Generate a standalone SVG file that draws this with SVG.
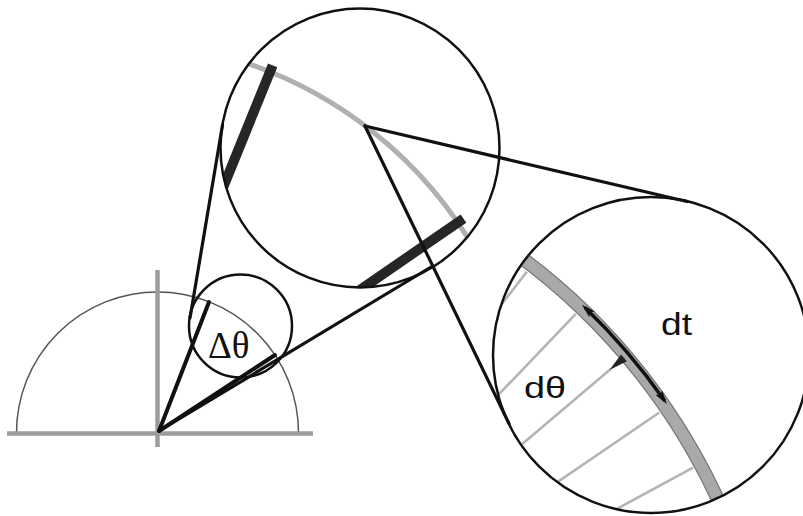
<svg xmlns="http://www.w3.org/2000/svg" width="803" height="516" viewBox="0 0 803 516">
  <style>
    .lens { fill: none; stroke: #111; stroke-width: 2.5; }
    .axis { stroke: #9c9c9c; stroke-width: 4.5; fill: none; }
    .arc0 { fill: none; stroke: #555; stroke-width: 1.5; }
    .radial { stroke: #111; stroke-width: 4; stroke-linecap: round; }
    .conn { stroke: #111; stroke-width: 3.2; stroke-linecap: round; fill: none; }
    .bar { stroke: #262626; stroke-width: 10; }
    .greyarc { fill: none; stroke: #b0b0b0; stroke-width: 5; }
    .hatch { stroke: #b4b4b4; stroke-width: 2.6; }
    .sans { font-family: "Liberation Sans", Arial, sans-serif; fill: #111; }
    .serif { font-family: "Liberation Serif", "Times New Roman", serif; fill: #111; }
  </style>
  <defs>
    <clipPath id="clipBig"><circle cx="360" cy="148" r="139"/></clipPath>
    <clipPath id="clipRight"><circle cx="651" cy="355" r="157"/></clipPath>
    <marker id="head" viewBox="0 0 14 8" refX="10" refY="4" markerWidth="14" markerHeight="8" markerUnits="userSpaceOnUse" orient="auto-start-reverse">
      <path d="M0,0 L14,4 L0,8 L3,4 z" fill="#111"/>
    </marker>
  </defs>
  <rect width="803" height="516" fill="#fff"/>

  <g id="semicircle">
    <path class="arc0" d="M16.5,433 A141,141 0 0 1 298.5,433"/>
    <line class="axis" x1="7" y1="433.5" x2="313" y2="433.5"/>
    <line class="axis" x1="157.5" y1="270" x2="157.5" y2="447"/>
    <line class="radial" x1="159" y1="431" x2="209" y2="302"/>
    <line class="radial" x1="159" y1="431" x2="275" y2="355"/>
  </g>

  <g id="lens-small">
    <circle class="lens" cx="240.5" cy="326" r="51.5"/>
    <text class="serif" x="208" y="358" font-size="37">Δθ</text>
  </g>

  <g id="lens-big">
    <g clip-path="url(#clipBig)">
      <path class="greyarc" d="M220.7,55.3 A420,420 0 0 1 482.8,263.8"/>
      <g transform="translate(112,461)">
        <line class="bar" x1="280" y1="0" x2="427" y2="0" transform="rotate(-67.9)"/>
        <line class="bar" x1="280" y1="0" x2="427" y2="0" transform="rotate(-34.6)"/>
      </g>
    </g>
    <circle class="lens" cx="360" cy="148" r="139.5"/>
  </g>

  <g id="lens-right">
    <g clip-path="url(#clipRight)">
      <g transform="translate(145,764)">
        <line class="hatch" x1="480" y1="0" x2="623" y2="0" transform="rotate(-52.2)"/>
        <line class="hatch" x1="480" y1="0" x2="623" y2="0" transform="rotate(-46.25)"/>
        <line class="hatch" x1="480" y1="0" x2="611" y2="0" transform="rotate(-40.3)"/>
        <line class="hatch" x1="480" y1="0" x2="623" y2="0" transform="rotate(-34.35)"/>
        <line class="hatch" x1="480" y1="0" x2="623" y2="0" transform="rotate(-28.4)"/>
      </g>
      <path d="M497.8,240.9 A631,631 0 0 1 737.9,548.2" fill="none" stroke="#777" stroke-width="14"/>
      <path d="M497.8,240.9 A631,631 0 0 1 737.9,548.2" fill="none" stroke="#a9a9a9" stroke-width="11.5"/>
      <polygon points="609,0 628,-4.5 628,4.5" fill="#222" transform="translate(145,764) rotate(-40.3)"/>
      <path d="M584.9,307.5 A634,634 0 0 1 664.6,400.7" fill="none" stroke="#111" stroke-width="3.5" marker-start="url(#head)" marker-end="url(#head)"/>
    </g>
    <circle class="lens" cx="651" cy="355" r="158"/>
    <text class="sans" x="661" y="335" font-size="32" textLength="31" lengthAdjust="spacingAndGlyphs">dt</text>
    <text class="sans" x="524" y="398" font-size="30" textLength="42" lengthAdjust="spacingAndGlyphs">dθ</text>
  </g>

  <g id="connectors">
    <line class="conn" x1="190" y1="318" x2="222.5" y2="125"/>
    <line class="conn" x1="159" y1="431" x2="431" y2="267" stroke-width="3.6"/>
    <line class="conn" x1="365" y1="126" x2="687" y2="201.5"/>
    <line class="conn" x1="365" y1="126" x2="509" y2="423.6"/>
  </g>
</svg>
